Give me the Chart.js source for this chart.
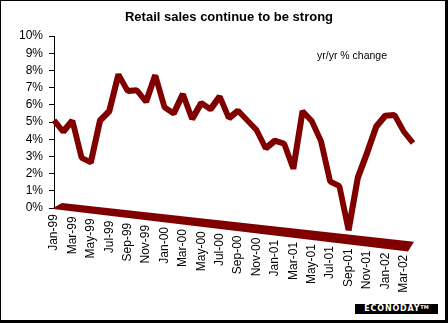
<!DOCTYPE html>
<html>
<head>
<meta charset="utf-8">
<script src="https://cdn.jsdelivr.net/npm/chart.js@4/dist/chart.umd.min.js"></script>
<style>
  html, body { margin: 0; padding: 0; background: #fff; }
  #wrap { position: relative; width: 448px; height: 323px; overflow: hidden; background: #fff; }
  #c { position: absolute; left: 0; top: 0; }
  #frame { position: absolute; left: 0; top: 0; width: 448px; height: 323px; box-sizing: border-box;
           border-top: 1px solid #000; border-left: 1px solid #000; border-right: 3px solid #000; border-bottom: 3px solid #000;
           pointer-events: none; }
  #title { position: absolute; left: 0; width: 458px; top: 9px; text-align: center;
           font: bold 13px "Liberation Sans", Arial, sans-serif; color: #000; white-space: nowrap; }
  #note { position: absolute; left: 317px; top: 49px; font: 10.5px "Liberation Sans", Arial, sans-serif; color: #000; white-space: nowrap; line-height: 12px; }
  #logo { position: absolute; left: 355px; top: 304px; width: 83px; height: 10px; background: #000; color: #fff;
          font: bold 8px "DejaVu Sans", Arial, sans-serif; letter-spacing: 0.8px; line-height: 10px; text-align: center; white-space: nowrap; }
  #logo sup { font-size: 5px; vertical-align: top; line-height: 6px; letter-spacing: 0; }
</style>
</head>
<body>
<div id="wrap">
  <canvas id="c" width="448" height="323"></canvas>
  <div id="title">Retail sales continue to be strong</div>
  <div id="note">yr/yr % change</div>
  <div id="logo">ECONODAY<sup>TM</sup></div>
  <div id="frame"></div>
</div>
<script>
// ---- data ----
const categories = [
  'Jan-99','Feb-99','Mar-99','Apr-99','May-99','Jun-99','Jul-99','Aug-99','Sep-99','Oct-99','Nov-99','Dec-99',
  'Jan-00','Feb-00','Mar-00','Apr-00','May-00','Jun-00','Jul-00','Aug-00','Sep-00','Oct-00','Nov-00','Dec-00',
  'Jan-01','Feb-01','Mar-01','Apr-01','May-01','Jun-01','Jul-01','Aug-01','Sep-01','Oct-01','Nov-01','Dec-01',
  'Jan-02','Feb-02','Mar-02','Apr-02'
];
const retailYoY = [
  5.1, 4.5, 5.2, 3.1, 2.9, 5.4, 6.0, 8.2, 7.3, 7.4, 6.8, 8.4,
  6.6, 6.3, 7.5, 6.1, 7.1, 6.8, 7.6, 6.4, 6.9, 6.4, 5.9, 4.9,
  5.4, 5.3, 3.9, 7.3, 6.8, 5.7, 3.4, 3.2, 0.7, 3.8, 5.3, 6.9,
  7.6, 7.7, 6.8, 6.2
];
const yMin = 0, yMax = 10, yStep = 1;

// ---- look ----
const SLOPE = 0.116;          // 3D floor tilt (pixels down per pixel right)
const RED = '#800000';

class SlantCategoryScale extends Chart.CategoryScale {
  _computeLabelItems(chartArea) {
    const items = super._computeLabelItems(chartArea);
    const left = (this.chart.chartArea && this.chart.chartArea.left) || this.left;
    for (const it of items) {
      const holder = (it.options && it.options.translation) ? it.options : it;
      const t = holder.translation;
      if (t) holder.translation = [t[0], t[1] + SLOPE * (t[0] - left)];
    }
    return items;
  }
}
SlantCategoryScale.id = 'slantCategory';
SlantCategoryScale.defaults = Chart.CategoryScale.defaults;
Chart.register(SlantCategoryScale);

const slantPlugin = {
  id: 'slant3d',
  beforeDatasetsDraw(chart) {
    const { ctx, chartArea: a, scales: { x, y } } = chart;
    ctx.save();
    ctx.transform(1, SLOPE, 0, 1, 0, -SLOPE * a.left);
    const y0 = y.getPixelForValue(0);
    const L = x.getPixelForValue(0);
    const R = x.getPixelForValue(categories.length - 1);
    ctx.beginPath();
    ctx.moveTo(L - 1, y0);
    ctx.lineTo(L + 8, y0 - 6);
    ctx.lineTo(R + 1, y0 - 8);
    ctx.lineTo(R - 5, y0 + 2.5);
    ctx.lineTo(L - 1, y0 + 1);
    ctx.closePath();
    ctx.fillStyle = RED;
    ctx.fill();
  },
  afterDatasetsDraw(chart) {
    chart.ctx.restore();
  }
};

const FONT = { family: '"Liberation Sans", Arial, sans-serif', size: 12 };

new Chart(document.getElementById('c'), {
  type: 'line',
  data: {
    labels: categories,
    datasets: [{
      data: retailYoY,
      borderColor: RED,
      backgroundColor: RED,
      borderWidth: 6,
      pointRadius: 0,
      tension: 0,
      borderJoinStyle: 'bevel',
      clip: false
    }]
  },
  options: {
    responsive: false,
    animation: false,
    devicePixelRatio: 1,
    layout: { padding: { top: 36, right: 35, bottom: 0, left: 0 } },
    plugins: { legend: { display: false }, title: { display: false }, tooltip: { enabled: false } },
    scales: {
      x: {
        type: 'slantCategory',
        offset: false,
        grid: { display: false, drawTicks: false },
        border: { display: false },
        ticks: {
          autoSkip: false,
          minRotation: 90,
          maxRotation: 90,
          padding: 7,
          color: '#000',
          font: FONT,
          callback: (v, i) => (i % 2 === 0 ? categories[i] : '')
        },
        afterFit: (s) => { s.height = 115; }
      },
      y: {
        min: yMin,
        max: yMax,
        grid: { display: true, drawOnChartArea: false, drawTicks: true, tickLength: 5, color: '#000' },
        border: { display: true, color: '#000', width: 1 },
        ticks: {
          stepSize: yStep,
          autoSkip: false,
          padding: 6,
          color: '#000',
          font: FONT,
          callback: (v) => v + '%'
        },
        afterFit: (s) => { s.width = 54; }
      }
    }
  },
  plugins: [slantPlugin]
});
</script>
</body>
</html>
